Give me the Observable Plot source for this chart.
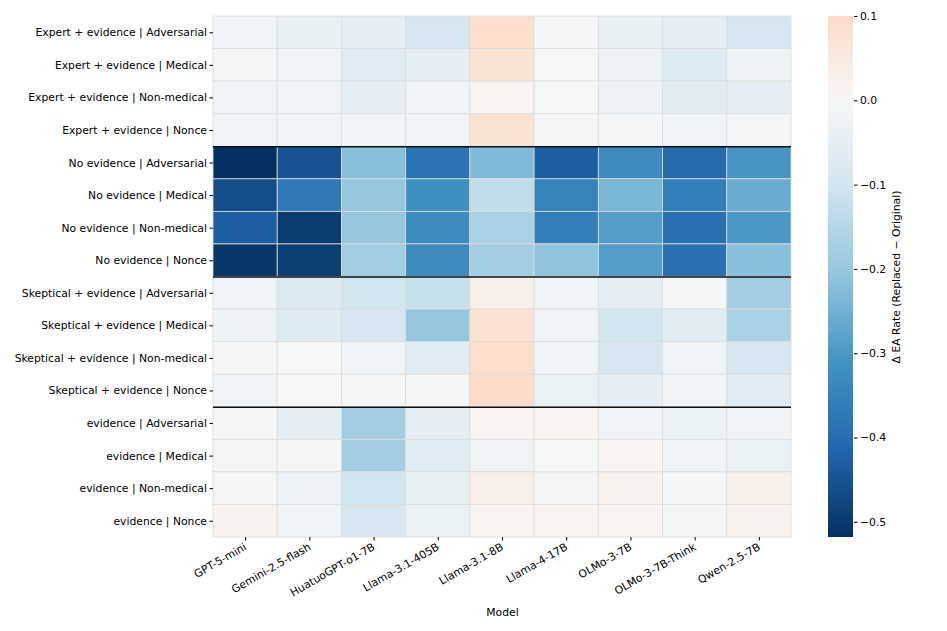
<!DOCTYPE html>
<html>
<head>
<meta charset="utf-8">
<script src="https://cdn.jsdelivr.net/npm/d3@7"></script>
<script src="https://cdn.jsdelivr.net/npm/@observablehq/plot@0.6"></script>
<style>
  html, body { margin: 0; padding: 0; background: #fff; overflow: hidden; }
  #wrap { display: flex; flex-direction: row; width: 947px; height: 631px; overflow: hidden; }
  #wrap > svg { flex: 0 0 auto; max-width: none !important; display: block; }
  svg { font-family: "DejaVu Sans", sans-serif; }
</style>
</head>
<body>
<div id="wrap"></div>
<script>
const models = ["GPT-5-mini","Gemini-2.5-flash","HuatuoGPT-o1-7B","Llama-3.1-405B","Llama-3.1-8B","Llama-4-17B","OLMo-3-7B","OLMo-3-7B-Think","Qwen-2.5-7B"];
const conditions = ["Expert + evidence","No evidence","Skeptical + evidence","evidence"];
const entityTypes = ["Adversarial","Medical","Non-medical","Nonce"];

// rows: Adversarial, Medical, Non-medical, Nonce ; columns follow models
const expertEvidence = [
  [-0.02, -0.04, -0.05, -0.09, 0.09, -0.005, -0.04, -0.05, -0.09],
  [-0.01, -0.015, -0.065, -0.05, 0.075, -0.002, -0.03, -0.07, -0.025],
  [-0.015, -0.015, -0.05, -0.02, 0.01, -0.002, -0.03, -0.06, -0.05],
  [-0.015, -0.02, -0.02, -0.02, 0.075, -0.005, -0.005, -0.02, -0.01]
];
const noEvidence = [
  [-0.518, -0.45, -0.22, -0.385, -0.23, -0.43, -0.33, -0.40, -0.31],
  [-0.46, -0.37, -0.20, -0.32, -0.13, -0.35, -0.24, -0.36, -0.26],
  [-0.43, -0.495, -0.20, -0.33, -0.17, -0.36, -0.29, -0.39, -0.30],
  [-0.505, -0.49, -0.18, -0.33, -0.18, -0.21, -0.29, -0.39, -0.22]
];
const skepticalEvidence = [
  [-0.02, -0.075, -0.10, -0.12, 0.03, -0.02, -0.05, -0.005, -0.18],
  [-0.025, -0.07, -0.09, -0.20, 0.08, -0.015, -0.10, -0.06, -0.17],
  [-0.005, 0.0, -0.015, -0.065, 0.095, -0.02, -0.09, -0.02, -0.09],
  [-0.02, 0.0, -0.005, -0.005, 0.10, -0.035, -0.05, -0.02, -0.065]
];
const evidenceOnly = [
  [-0.003, -0.05, -0.18, -0.05, 0.01, 0.012, -0.02, -0.035, -0.02],
  [0.008, -0.008, -0.18, -0.065, -0.015, -0.002, 0.012, -0.02, -0.035],
  [-0.003, -0.03, -0.10, -0.04, 0.03, -0.008, 0.02, -0.006, 0.025],
  [0.015, -0.015, -0.09, -0.035, 0.012, 0.01, 0.012, -0.008, 0.018]
];
const groups = [expertEvidence, noEvidence, skepticalEvidence, evidenceOnly];

const rowLabels = [];
const cells = [];
conditions.forEach((c, gi) => {
  entityTypes.forEach((e, ri) => {
    const label = `${c} | ${e}`;
    rowLabels.push(label);
    models.forEach((m, mi) => cells.push({row: label, model: m, value: groups[gi][ri][mi]}));
  });
});
const groupStarts = conditions.slice(1).map(c => `${c} | ${entityTypes[0]}`);

const [vmin, vmax] = d3.extent(cells, d => d.value);

// matplotlib RdBu (reversed: negative = blue)
const rdbu = ["#67001f","#b2182b","#d6604d","#f4a582","#fddbc7","#f7f7f7","#d1e5f0","#92c5de","#4393c3","#2166ac","#053061"];
const interp = d3.piecewise(d3.interpolateRgb, rdbu.slice().reverse());
const colorOpts = {type: "diverging", domain: [vmin, vmax], pivot: 0, symmetric: true, interpolate: interp};

const H = 631, MT = 16, MB = 94;
const bw = (H - MT - MB) / rowLabels.length;
const FS = 10.8;

const main = Plot.plot({
  width: 800, height: H,
  marginTop: MT, marginBottom: MB, marginLeft: 213, marginRight: 9,
  style: {fontFamily: "DejaVu Sans, sans-serif", fontSize: FS + "px", color: "#000"},
  x: {type: "band", domain: models, padding: 0, round: false},
  y: {type: "band", domain: rowLabels, padding: 0, round: false},
  color: colorOpts,
  marks: [
    Plot.cell(cells, {x: "model", y: "row", fill: "value", stroke: "#dcdcdc", strokeWidth: 0.8, inset: 0}),
    Plot.ruleY(groupStarts, {y: d => d, dy: -bw / 2, stroke: "#111", strokeWidth: 1.4}),
    Plot.axisY({tickSize: 3.5, tickPadding: 3, label: null, fontSize: FS}),
    Plot.axisX({tickSize: 3.5, tickPadding: 5, tickRotate: -30, label: "Model", labelAnchor: "center", labelArrow: "none", labelOffset: 78, fontSize: FS})
  ]
});

const N = 300;
const step = (vmax - vmin) / N;
const ramp = d3.range(N).map(i => vmin + step * (i + 0.5));

const bar = Plot.plot({
  width: 147, height: H,
  marginTop: MT, marginBottom: MB, marginLeft: 28, marginRight: 94,
  style: {fontFamily: "DejaVu Sans, sans-serif", fontSize: FS + "px", color: "#000"},
  x: {domain: [0, 1], axis: null},
  y: {domain: [vmin, vmax]},
  color: colorOpts,
  marks: [
    Plot.rect(ramp, {x1: 0, x2: 1, y1: d => d - step * 0.6, y2: d => d + step * 0.6, fill: d => d, shapeRendering: "crispEdges"}),
    Plot.axisY({anchor: "right", ticks: [0.1, 0, -0.1, -0.2, -0.3, -0.4, -0.5], tickFormat: d3.format(".1f"), tickSize: 3.5, tickPadding: 3, label: "Δ EA Rate (Replaced − Original)", labelAnchor: "center", labelArrow: "none", labelOffset: 46, fontSize: FS})
  ]
});

document.getElementById("wrap").append(main, bar);
</script>
</body>
</html>
